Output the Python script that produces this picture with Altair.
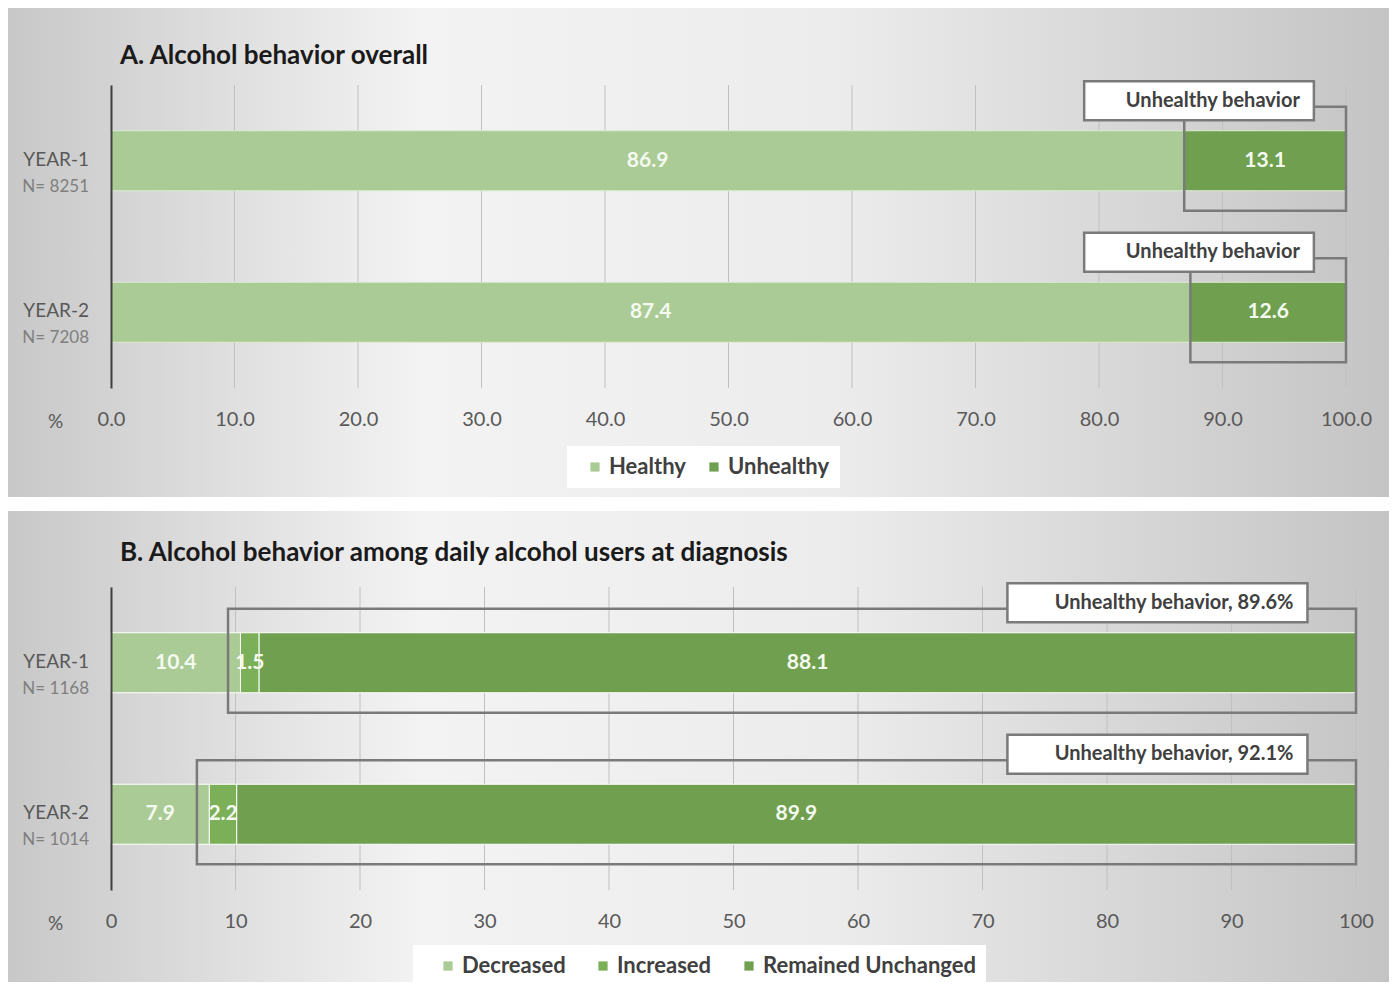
import altair as alt
import pandas as pd

# ---------------- data ----------------
years = ["YEAR-1", "YEAR-2"]
n_a = ["N= 8251", "N= 7208"]
healthy = [86.9, 87.4]
unhealthy = [13.1, 12.6]

n_b = ["N= 1168", "N= 1014"]
decreased = [10.4, 7.9]
increased = [1.5, 2.2]
unchanged = [88.1, 89.9]
unhealthy_b = [89.6, 92.1]

cats_a = ["Healthy", "Unhealthy"]
cats_b = ["Decreased", "Increased", "Remained Unchanged"]
colors_a = ["#aacb95", "#70a04f"]
colors_b = ["#aacb95", "#7cb058", "#70a04f"]

ticks = list(range(0, 101, 10))

FONT = "Lato"


def stacked(series, cats):
    rows = []
    for i, y in enumerate(years):
        s = 0.0
        for c, vals in zip(cats, series):
            v = vals[i]
            rows.append({"year": y, "cat": c, "start": s, "end": s + v,
                         "mid": s + v / 2, "label": f"{v:.1f}"})
            s += v
    return pd.DataFrame(rows)


df_a = stacked([healthy, unhealthy], cats_a)
df_b = stacked([decreased, increased, unchanged], cats_b)

ann_a = pd.DataFrame({
    "year": years,
    "bstart": healthy,
    "text": ["Unhealthy behavior"] * 2,
})
ann_b = pd.DataFrame({
    "year": years,
    "bstart": [d - 1.0 for d in decreased],
    "text": [f"Unhealthy behavior, {u:.1f}%" for u in unhealthy_b],
})
ylab_a = pd.DataFrame({"year": years, "n": n_a})
ylab_b = pd.DataFrame({"year": years, "n": n_b})
tick_df = pd.DataFrame({"t": ticks})


def panel(df, ann, ylab, cats, colors, title, width, fmt, box_x, legend_xy,
          title_y, bg_y, sep, sym_off, lab_off, col_pad):
    H = 303
    xs = alt.Scale(domain=[0, 100], nice=False, zero=True)
    ys = alt.Scale(domain=years, paddingInner=0.6, paddingOuter=0.3)
    xaxis = alt.Axis(values=ticks, format=fmt, domain=False, labelFlush=False,
                     ticks=False, grid=False, zindex=1,
                     labelFont=FONT, labelFontSize=20, labelColor="#595959",
                     labelPadding=21, title="%", titleFont=FONT,
                     titleFontSize=19, titleFontWeight="normal",
                     titleColor="#595959", titleX=-56, titleY=33,
                     titleBaseline="middle", titleAlign="center")
    yaxis = alt.Axis(labels=False, ticks=False, title=None, domain=True,
                     domainColor="#404040", domainWidth=2, grid=False,
                     zindex=1)

    bg_df = pd.DataFrame({"k": [0]})
    bg = alt.Chart(bg_df).mark_rect(
        fill=alt.Gradient(
            gradient="linear", x1=0, y1=0, x2=1, y2=0,
            stops=[alt.GradientStop(color="#c8c8c8", offset=0),
                   alt.GradientStop(color="#f3f3f3", offset=0.3),
                   alt.GradientStop(color="#ececec", offset=0.6),
                   alt.GradientStop(color="#c4c4c4", offset=1)]),
    ).encode(x=alt.value(-103), x2=alt.value(1278),
             y=alt.value(bg_y[0]), y2=alt.value(bg_y[1]))

    grid = alt.Chart(tick_df).mark_rule(color="#c0c0c0", strokeWidth=1).encode(
        x=alt.X("t:Q", scale=xs, axis=xaxis))

    base = alt.Chart(df)
    bars = base.mark_bar(size=60, stroke="white" if sep else "#dcebd2",
                         strokeWidth=1).encode(
        x=alt.X("start:Q", scale=xs, axis=xaxis),
        x2="end:Q",
        y=alt.Y("year:N", scale=ys, axis=yaxis),
        color=alt.Color("cat:N", scale=alt.Scale(domain=cats, range=colors),
                        legend=alt.Legend(
                            orient="none", legendX=legend_xy[0],
                            legendY=legend_xy[1], direction="horizontal",
                            title=None, fillColor="white", padding=10,
                            symbolType="square", symbolSize=85,
                            symbolStrokeWidth=0, labelFont=FONT,
                            labelFontSize=22, labelFontWeight="bold",
                            labelColor="#404040", columnPadding=col_pad,
                            labelLimit=400, labelOffset=lab_off,
                            symbolOffset=sym_off)),
    )
    labels = base.mark_text(font=FONT, fontSize=21, fontWeight="bold",
                            color="#f4faef").encode(
        x=alt.X("mid:Q", scale=xs), y=alt.Y("year:N", scale=ys),
        text="label:N")

    a = alt.Chart(ann)
    bracket = a.mark_bar(size=104, yOffset=-2, fillOpacity=0,
                         stroke="#7a7a7a", strokeWidth=2.5).encode(
        x=alt.X("bstart:Q", scale=xs), x2=alt.datum(100),
        y=alt.Y("year:N", scale=ys))
    box = a.mark_bar(size=39, yOffset=-60, fill="white", stroke="#7a7a7a",
                     strokeWidth=2.5).encode(
        x=alt.datum(box_x[0], scale=xs), x2=alt.datum(box_x[1]),
        y=alt.Y("year:N", scale=ys))
    box_text = a.mark_text(font=FONT, fontSize=20, fontWeight="bold",
                           color="#404040", align="right", dx=-14,
                           dy=-60).encode(
        x=alt.datum(box_x[1], scale=xs), y=alt.Y("year:N", scale=ys),
        text="text:N")

    yl = alt.Chart(ylab)
    ylab1 = yl.mark_text(font=FONT, fontSize=19, color="#595959",
                         align="right", dy=-1).encode(
        x=alt.value(-22), y=alt.Y("year:N", scale=ys), text="year:N")
    ylab2 = yl.mark_text(font=FONT, fontSize=17, color="#7f7f7f",
                         align="right", dy=26).encode(
        x=alt.value(-22), y=alt.Y("year:N", scale=ys), text="n:N")

    ttl = alt.Chart(bg_df).mark_text(
        text=title, font=FONT, fontSize=26, fontWeight="bold",
        color="#1a1a1a", align="left", baseline="middle").encode(
        x=alt.value(9), y=alt.value(title_y))

    return alt.layer(bg, grid, bars, labels, bracket, box, box_text, ylab1,
                     ylab2, ttl).properties(width=width, height=H)


pa = panel(df_a, ann_a, ylab_a, cats_a, colors_a,
           "A. Alcohol behavior overall", 1235, ".1f", (78.8, 97.4),
           (456, 361), -29, (-77, 412), False, 7, 3, 10)
pb = panel(df_b, ann_b, ylab_b, cats_b, colors_b,
           "B. Alcohol behavior among daily alcohol users at diagnosis", 1245,
           "d", (72.0, 96.1), (302, 358), -34, (-76, 395), True, 14, 3, 12)

chart = alt.vconcat(pa, pb, spacing=14).resolve_scale(
    x="independent", y="independent", color="independent"
).configure(padding=0).configure_view(stroke=None)

chart.save("out.html", embed_options={"renderer": "svg", "actions": False})
